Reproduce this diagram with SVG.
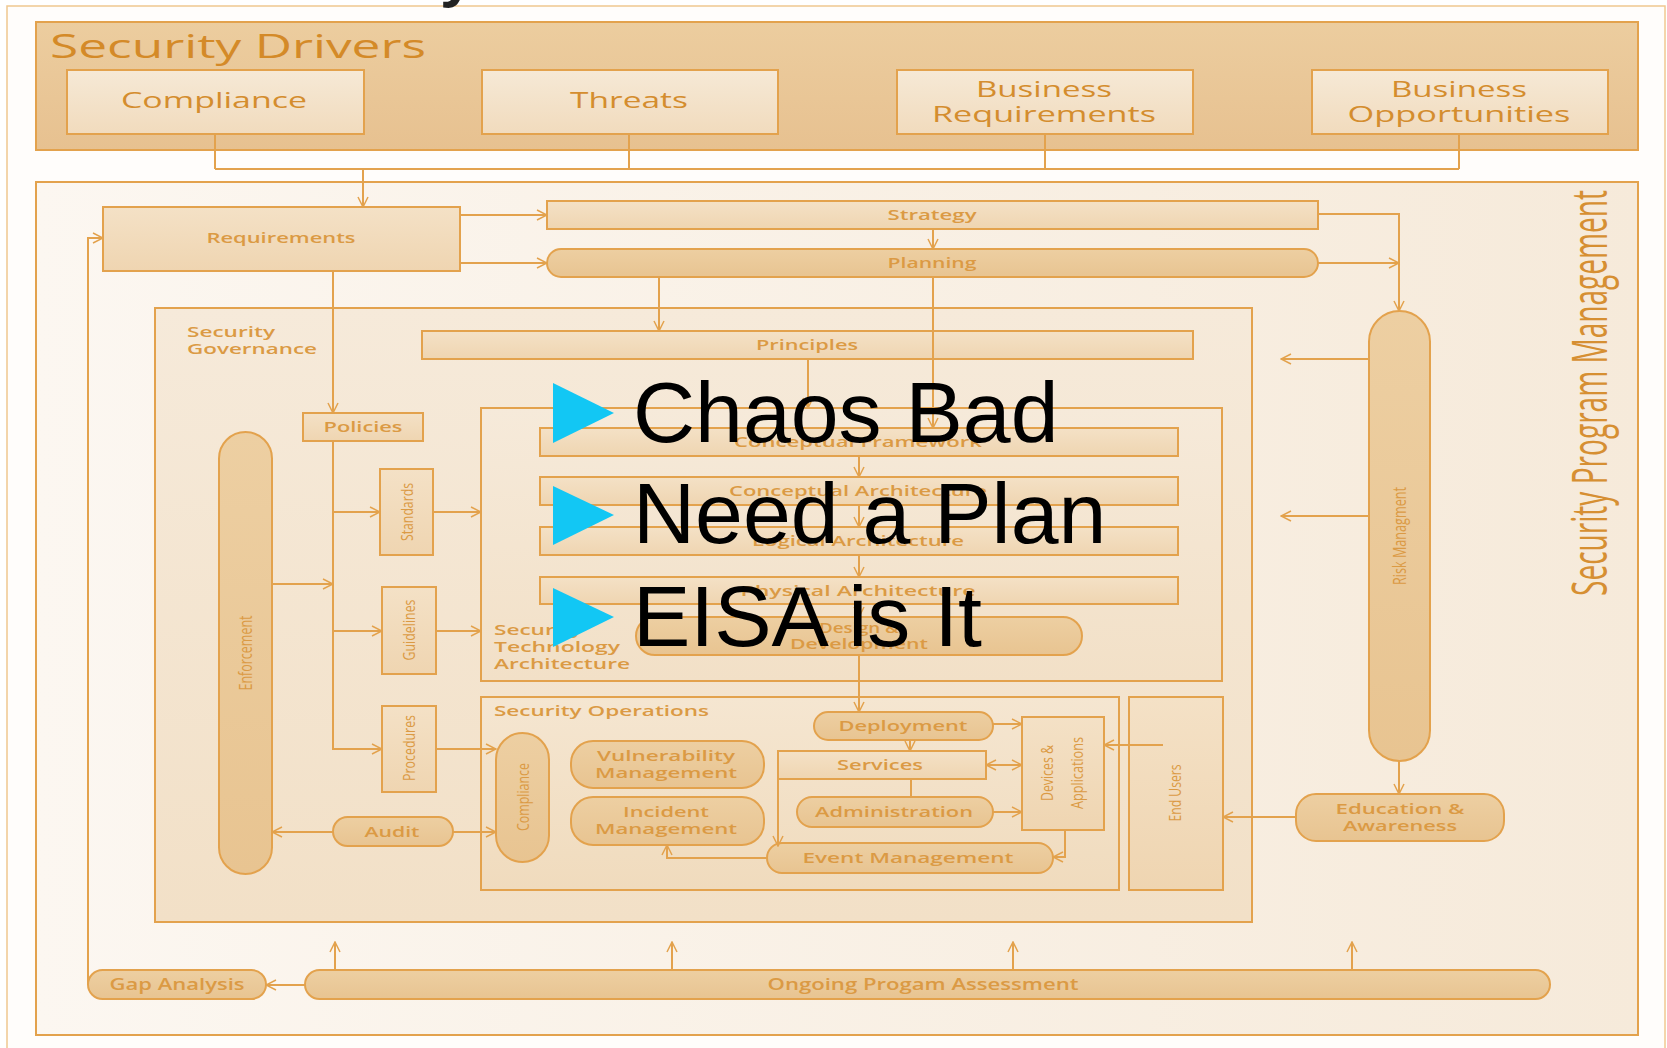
<svg xmlns="http://www.w3.org/2000/svg" width="1667" height="1048" viewBox="0 0 1667 1048">
<defs>
<linearGradient id="gDrv" x1="0" y1="0" x2="0" y2="1"><stop offset="0" stop-color="#ECCD9F"/><stop offset="1" stop-color="#E7C190"/></linearGradient>
<linearGradient id="gDbox" x1="0" y1="0" x2="0" y2="1"><stop offset="0" stop-color="#F6E9D6"/><stop offset="1" stop-color="#F1DBBD"/></linearGradient>
<linearGradient id="gPm" x1="0" y1="0" x2="1" y2="0"><stop offset="0" stop-color="#FCF7F1"/><stop offset="1" stop-color="#F6EADA"/></linearGradient>
<linearGradient id="gGov" x1="0" y1="0" x2="0" y2="1"><stop offset="0" stop-color="#F6EADA"/><stop offset="1" stop-color="#F2E0C7"/></linearGradient>
<linearGradient id="gBar" x1="0" y1="0" x2="0" y2="1"><stop offset="0" stop-color="#F4E1C6"/><stop offset="1" stop-color="#EFD5B1"/></linearGradient>
<linearGradient id="gPill" x1="0" y1="0" x2="0" y2="1"><stop offset="0" stop-color="#EDCFA2"/><stop offset="1" stop-color="#E8C491"/></linearGradient>
<linearGradient id="gOps" x1="0" y1="0" x2="0" y2="1"><stop offset="0" stop-color="#F5E6D1"/><stop offset="1" stop-color="#F0DBBD"/></linearGradient>
<marker id="ar" viewBox="0 0 12 12" refX="11" refY="6" markerWidth="12" markerHeight="12" markerUnits="userSpaceOnUse" orient="auto-start-reverse">
<path d="M1,1 L11,6 L1,11" fill="none" stroke="#E3A24D" stroke-width="1.5"/>
</marker>
</defs>
<style>
.box{fill:url(#gBar);stroke:#E3A24D;stroke-width:2}
.dbox{fill:url(#gDbox);stroke:#E3A24D;stroke-width:2}
.pill{fill:url(#gPill);stroke:#E3A24D;stroke-width:2}
.t{font-family:"Open Sans","Liberation Sans",sans-serif;fill:#DB9A44;font-weight:600;text-anchor:middle;font-size:14px}
.tl{text-anchor:start}
.big{fill:#D48D2E;font-size:21px;font-weight:500}
.v{font-family:"Open Sans","Liberation Sans",sans-serif;fill:#DB9A44;text-anchor:middle;dominant-baseline:central;font-size:17px}
#connectors path{fill:none;stroke:#E3A24D;stroke-width:2}
.bul{font-family:"Liberation Sans",Arial,sans-serif;font-size:86px;fill:#000}
.tri{fill:#12C7F4}
</style>

<rect x="7" y="6" width="1658" height="1060" fill="#FFFDFB" stroke="#F0C890" stroke-width="1.5"/>
<text x="440" y="-5" font-family="Liberation Sans, Arial, sans-serif" font-weight="bold" font-size="62" fill="#222">y</text>

<g id="security-drivers">
<rect x="36" y="22" width="1602" height="128" fill="url(#gDrv)" stroke="#E3A24D" stroke-width="2"/>
<text class="t tl" x="50" y="58" style="font-size:32px;fill:#D48A28;font-weight:500" textLength="376" lengthAdjust="spacingAndGlyphs">Security Drivers</text>
</g>
<g id="drv-compliance"><rect class="dbox" x="67" y="70" width="297" height="64"/><text class="t big" x="214" y="108" textLength="186" lengthAdjust="spacingAndGlyphs">Compliance</text></g>
<g id="drv-threats"><rect class="dbox" x="482" y="70" width="296" height="64"/><text class="t big" x="629" y="108" textLength="118" lengthAdjust="spacingAndGlyphs">Threats</text></g>
<g id="drv-business-req"><rect class="dbox" x="897" y="70" width="296" height="64"/><text class="t big" x="1044" y="97" textLength="136" lengthAdjust="spacingAndGlyphs">Business</text><text class="t big" x="1044" y="122" textLength="224" lengthAdjust="spacingAndGlyphs">Requirements</text></g>
<g id="drv-business-opp"><rect class="dbox" x="1312" y="70" width="296" height="64"/><text class="t big" x="1459" y="97" textLength="136" lengthAdjust="spacingAndGlyphs">Business</text><text class="t big" x="1459" y="122" textLength="223" lengthAdjust="spacingAndGlyphs">Opportunities</text></g>

<g id="security-program-management">
<rect x="36" y="182" width="1602" height="853" fill="url(#gPm)" stroke="#E3A24D" stroke-width="2"/>
<text transform="translate(1607,393) rotate(-90)" font-family="Open Sans, Liberation Sans, sans-serif" font-size="50" fill="#D68F32" text-anchor="middle" textLength="406" lengthAdjust="spacingAndGlyphs">Security Program Management</text>
</g>

<g id="requirements"><rect class="box" x="103" y="207" width="357" height="64"/><text class="t" x="281" y="243" textLength="149" lengthAdjust="spacingAndGlyphs">Requirements</text></g>
<g id="strategy"><rect class="box" x="547" y="201" width="771" height="28"/><text class="t" x="932" y="220" textLength="89" lengthAdjust="spacingAndGlyphs">Strategy</text></g>
<g id="planning"><rect class="pill" x="547" y="249" width="771" height="28" rx="14"/><text class="t" x="932" y="268" textLength="89" lengthAdjust="spacingAndGlyphs">Planning</text></g>

<g id="security-governance">
<rect x="155" y="308" width="1097" height="614" fill="url(#gGov)" stroke="#E3A24D" stroke-width="2"/>
<text class="t tl" x="187" y="337" style="font-size:15px" textLength="88" lengthAdjust="spacingAndGlyphs">Security</text>
<text class="t tl" x="187" y="354" style="font-size:15px" textLength="130" lengthAdjust="spacingAndGlyphs">Governance</text>
</g>
<g id="principles"><rect class="box" x="422" y="331" width="771" height="28"/><text class="t" x="807" y="350" textLength="102" lengthAdjust="spacingAndGlyphs">Principles</text></g>
<g id="policies"><rect class="box" x="303" y="413" width="120" height="28"/><text class="t" x="363" y="432" textLength="79" lengthAdjust="spacingAndGlyphs">Policies</text></g>
<g id="enforcement"><rect class="pill" x="219" y="432" width="53" height="442" rx="26.5"/><text class="v" transform="translate(245,653) rotate(-90)" style="font-size:18px" textLength="75" lengthAdjust="spacingAndGlyphs">Enforcement</text></g>
<g id="standards"><rect class="box" x="380" y="469" width="53" height="86"/><text class="v" transform="translate(406,512) rotate(-90)" textLength="58" lengthAdjust="spacingAndGlyphs">Standards</text></g>
<g id="guidelines"><rect class="box" x="382" y="587" width="54" height="87"/><text class="v" transform="translate(408,630) rotate(-90)" textLength="61" lengthAdjust="spacingAndGlyphs">Guidelines</text></g>
<g id="procedures"><rect class="box" x="382" y="706" width="54" height="86"/><text class="v" transform="translate(408,748) rotate(-90)" textLength="66" lengthAdjust="spacingAndGlyphs">Procedures</text></g>
<g id="audit"><rect class="pill" x="333" y="817" width="120" height="29" rx="14.5"/><text class="t" x="392" y="837" style="font-size:15px" textLength="55" lengthAdjust="spacingAndGlyphs">Audit</text></g>

<g id="security-technology-architecture">
<rect x="481" y="408" width="741" height="273" fill="url(#gGov)" stroke="#E3A24D" stroke-width="2"/>
<text class="t tl" x="494" y="635" style="font-size:15px" textLength="88" lengthAdjust="spacingAndGlyphs">Security</text>
<text class="t tl" x="494" y="652" style="font-size:15px" textLength="126" lengthAdjust="spacingAndGlyphs">Technology</text>
<text class="t tl" x="494" y="669" style="font-size:15px" textLength="136" lengthAdjust="spacingAndGlyphs">Architecture</text>
</g>
<g id="conceptual-framework"><rect class="box" x="540" y="428" width="638" height="28"/><text class="t" x="858" y="447" style="font-size:15px" textLength="248" lengthAdjust="spacingAndGlyphs">Conceptual Framework</text></g>
<g id="conceptual-architecture"><rect class="box" x="540" y="477" width="638" height="28"/><text class="t" x="858" y="496" style="font-size:15px" textLength="258" lengthAdjust="spacingAndGlyphs">Conceptual Architecture</text></g>
<g id="logical-architecture"><rect class="box" x="540" y="527" width="638" height="28"/><text class="t" x="858" y="546" style="font-size:15px" textLength="212" lengthAdjust="spacingAndGlyphs">Logical Architecture</text></g>
<g id="physical-architecture"><rect class="box" x="540" y="577" width="638" height="27"/><text class="t" x="858" y="596" style="font-size:15px" textLength="235" lengthAdjust="spacingAndGlyphs">Physical Architecture</text></g>
<g id="design-development"><rect class="pill" x="636" y="617" width="446" height="38" rx="19"/><text class="t" x="859" y="633" style="font-size:15px" textLength="80" lengthAdjust="spacingAndGlyphs">Design &amp;</text><text class="t" x="859" y="649" style="font-size:15px" textLength="138" lengthAdjust="spacingAndGlyphs">Development</text></g>

<g id="security-operations">
<rect x="481" y="697" width="638" height="193" fill="url(#gOps)" stroke="#E3A24D" stroke-width="2"/>
<text class="t tl" x="494" y="716" style="font-size:15px" textLength="215" lengthAdjust="spacingAndGlyphs">Security Operations</text>
</g>
<g id="ops-compliance"><rect class="pill" x="496" y="733" width="53" height="129" rx="26.5"/><text class="v" transform="translate(522,797) rotate(-90)" textLength="68" lengthAdjust="spacingAndGlyphs">Compliance</text></g>
<g id="vulnerability-management"><rect class="pill" x="571" y="741" width="193" height="47" rx="22"/><text class="t" x="666" y="761" style="font-size:15px" textLength="138" lengthAdjust="spacingAndGlyphs">Vulnerability</text><text class="t" x="666" y="778" style="font-size:15px" textLength="142" lengthAdjust="spacingAndGlyphs">Management</text></g>
<g id="incident-management"><rect class="pill" x="571" y="797" width="193" height="48" rx="22"/><text class="t" x="666" y="817" style="font-size:15px" textLength="86" lengthAdjust="spacingAndGlyphs">Incident</text><text class="t" x="666" y="834" style="font-size:15px" textLength="142" lengthAdjust="spacingAndGlyphs">Management</text></g>
<g id="deployment"><rect class="pill" x="814" y="712" width="179" height="28" rx="14"/><text class="t" x="903" y="731" style="font-size:15px" textLength="129" lengthAdjust="spacingAndGlyphs">Deployment</text></g>
<g id="services"><rect class="box" x="778" y="751" width="208" height="28"/><text class="t" x="880" y="770" style="font-size:15px" textLength="86" lengthAdjust="spacingAndGlyphs">Services</text></g>
<g id="administration"><rect class="pill" x="797" y="797" width="196" height="30" rx="15"/><text class="t" x="894" y="817" style="font-size:15px" textLength="158" lengthAdjust="spacingAndGlyphs">Administration</text></g>
<g id="event-management"><rect class="pill" x="767" y="843" width="286" height="30" rx="15"/><text class="t" x="908" y="863" style="font-size:15px" textLength="211" lengthAdjust="spacingAndGlyphs">Event Management</text></g>
<g id="devices-applications"><rect class="box" x="1022" y="717" width="82" height="113"/><text class="v" transform="translate(1046,773) rotate(-90)" textLength="56" lengthAdjust="spacingAndGlyphs">Devices &amp;</text><text class="v" transform="translate(1076,773) rotate(-90)" textLength="72" lengthAdjust="spacingAndGlyphs">Applications</text></g>
<g id="end-users"><rect class="box" x="1129" y="697" width="94" height="193"/><text class="v" transform="translate(1174,793) rotate(-90)" textLength="57" lengthAdjust="spacingAndGlyphs">End Users</text></g>

<g id="risk-management"><rect class="pill" x="1369" y="311" width="61" height="450" rx="30.5"/><text class="v" transform="translate(1399,536) rotate(-90)" style="font-size:18px" textLength="98" lengthAdjust="spacingAndGlyphs">Risk Managment</text></g>
<g id="education-awareness"><rect class="pill" x="1296" y="794" width="208" height="47" rx="20"/><text class="t" x="1400" y="814" style="font-size:15px" textLength="129" lengthAdjust="spacingAndGlyphs">Education &amp;</text><text class="t" x="1400" y="831" style="font-size:15px" textLength="114" lengthAdjust="spacingAndGlyphs">Awareness</text></g>
<g id="gap-analysis"><rect class="pill" x="88" y="970" width="178" height="29" rx="14.5"/><text class="t" x="177" y="990" style="font-size:16px" textLength="135" lengthAdjust="spacingAndGlyphs">Gap Analysis</text></g>
<g id="ongoing-assessment"><rect class="pill" x="305" y="970" width="1245" height="29" rx="14.5"/><text class="t" x="923" y="990" style="font-size:16px" textLength="311" lengthAdjust="spacingAndGlyphs">Ongoing Progam Assessment</text></g>

<g id="connectors">
<path d="M215,134 V169 M629,134 V169 M1045,134 V169 M1459,134 V169 M215,169 H1459"/>
<path d="M363,169 V207" marker-end="url(#ar)"/>
<path d="M460,215 H547" marker-end="url(#ar)"/>
<path d="M460,263 H547" marker-end="url(#ar)"/>
<path d="M933,229 V249" marker-end="url(#ar)"/>
<path d="M1318,214 H1399 V311" marker-end="url(#ar)"/>
<path d="M1318,263 H1399" marker-end="url(#ar)"/>
<path d="M659,277 V331" marker-end="url(#ar)"/>
<path d="M933,277 V428" marker-end="url(#ar)"/>
<path d="M808,359 V408" marker-end="url(#ar)"/>
<path d="M859,456 V477" marker-end="url(#ar)"/>
<path d="M859,505 V527" marker-end="url(#ar)"/>
<path d="M859,555 V577" marker-end="url(#ar)"/>
<path d="M859,604 V617" marker-end="url(#ar)"/>
<path d="M859,655 V712" marker-end="url(#ar)"/>
<path d="M333,271 V413" marker-end="url(#ar)"/>
<path d="M333,441 V749 H382" marker-end="url(#ar)"/>
<path d="M333,512 H380" marker-end="url(#ar)"/>
<path d="M333,631 H382" marker-end="url(#ar)"/>
<path d="M272,584 H333" marker-end="url(#ar)"/>
<path d="M433,512 H481" marker-end="url(#ar)"/>
<path d="M436,631 H481" marker-end="url(#ar)"/>
<path d="M436,749 H496" marker-end="url(#ar)"/>
<path d="M333,832 H272" marker-end="url(#ar)"/>
<path d="M453,832 H496" marker-end="url(#ar)"/>
<path d="M910,740 V751" marker-end="url(#ar)"/>
<path d="M993,724 H1022" marker-end="url(#ar)"/>
<path d="M986,765 H1022" marker-start="url(#ar)" marker-end="url(#ar)"/>
<path d="M911,779 V797"/>
<path d="M993,812 H1022" marker-end="url(#ar)"/>
<path d="M778,779 V846" marker-end="url(#ar)"/>
<path d="M1065,830 V857 H1053" marker-end="url(#ar)"/>
<path d="M767,858 H667 V845" marker-end="url(#ar)"/>
<path d="M1163,745 H1104" marker-end="url(#ar)"/>
<path d="M1296,817 H1223" marker-end="url(#ar)"/>
<path d="M1369,359 H1281" marker-end="url(#ar)"/>
<path d="M1369,516 H1281" marker-end="url(#ar)"/>
<path d="M1399,761 V794" marker-end="url(#ar)"/>
<path d="M335,970 V942" marker-end="url(#ar)"/>
<path d="M672,970 V942" marker-end="url(#ar)"/>
<path d="M1013,970 V942" marker-end="url(#ar)"/>
<path d="M1352,970 V942" marker-end="url(#ar)"/>
<path d="M305,985 H266" marker-end="url(#ar)"/>
<path d="M88,985 V238 H103" marker-end="url(#ar)"/>
</g>

<g id="bullets">
<polygon class="tri" points="553,383 614,413 553,443"/>
<text class="bul" x="633" y="442">Chaos Bad</text>
<polygon class="tri" points="553,486 614,515 553,545"/>
<text class="bul" x="633" y="543">Need a Plan</text>
<polygon class="tri" points="553,588 614,617 553,647"/>
<text class="bul" x="633" y="646">EISA is It</text>
</g>
</svg>
